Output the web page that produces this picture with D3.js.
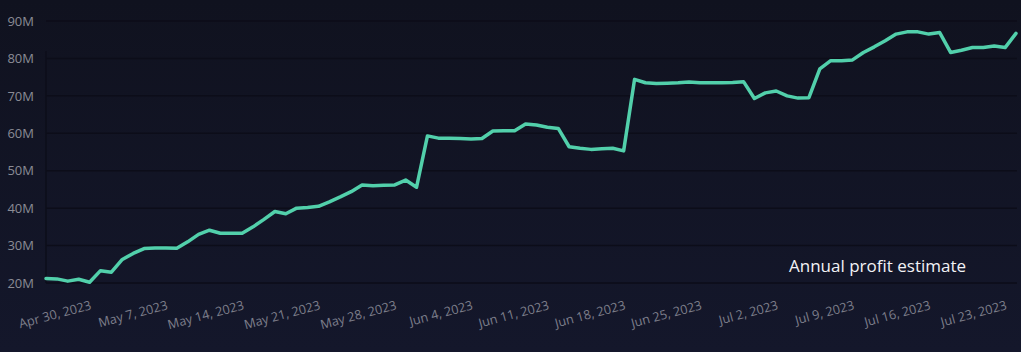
<!DOCTYPE html>
<html>
<head>
<meta charset="utf-8">
<script src="https://cdn.jsdelivr.net/npm/d3@7"></script>
<style>
  html, body { margin: 0; padding: 0; background: #12142a; }
  svg { display: block; }
</style>
</head>
<body>
<div id="chart"></div>
<script>
"use strict";

// daily values, in millions, starting on the first date
var startDate = "2023-04-26";
var profit = [
  21.2, 21.1, 20.5, 21.0, 20.2, 23.3, 22.9, 26.3, 27.9, 29.2,
  29.35, 29.35, 29.3, 31.0, 33.0, 34.1, 33.3, 33.3, 33.3, 35.0,
  37.0, 39.1, 38.5, 40.0, 40.2, 40.5, 41.7, 43.0, 44.4, 46.2,
  46.0, 46.1, 46.2, 47.5, 45.6, 59.3, 58.7, 58.7, 58.6, 58.5,
  58.6, 60.6, 60.7, 60.7, 62.5, 62.2, 61.6, 61.3, 56.4, 56.0,
  55.7, 55.9, 56.0, 55.3, 74.4, 73.5, 73.3, 73.4, 73.5, 73.7,
  73.5, 73.5, 73.5, 73.6, 73.8, 69.3, 70.8, 71.3, 70.0, 69.4,
  69.5, 77.2, 79.4, 79.4, 79.6, 81.6, 83.1, 84.7, 86.5, 87.1,
  87.1, 86.5, 86.9, 81.6, 82.2, 82.9, 82.9, 83.3, 82.9, 86.7
];
var yTicks = [20, 30, 40, 50, 60, 70, 80, 90];
var seriesName = "Annual profit estimate";

var width = 1021, height = 352;
var plot = { left: 46, right: 1016, top: 21, bottom: 283 };

var parse = d3.timeParse("%Y-%m-%d");
var day0 = parse(startDate);
var data = profit.map(function (v, i) {
  return { date: d3.timeDay.offset(day0, i), value: v };
});

var x = d3.scaleTime()
  .domain(d3.extent(data, function (d) { return d.date; }))
  .range([plot.left, plot.right]);
var y = d3.scaleLinear().domain([20, 90]).range([plot.bottom, plot.top]);

var svg = d3.select("#chart").append("svg")
  .attr("width", width).attr("height", height);

// background, a little lighter at the bottom
var grad = svg.append("defs").append("linearGradient")
  .attr("id", "bg").attr("x1", 0).attr("y1", 0).attr("x2", 0).attr("y2", 1);
grad.append("stop").attr("offset", "0%").attr("stop-color", "#10121f");
grad.append("stop").attr("offset", "100%").attr("stop-color", "#14172b");
svg.append("rect").attr("width", width).attr("height", height).attr("fill", "url(#bg)");

// grid lines
svg.append("g").selectAll("line").data(yTicks).join("line")
  .attr("x1", plot.left).attr("x2", plot.right + 1)
  .attr("y1", function (d) { return y(d); })
  .attr("y2", function (d) { return y(d); })
  .attr("stroke", "#0c0d19").attr("stroke-width", 1.5);

svg.append("line")
  .attr("x1", plot.left).attr("x2", plot.left)
  .attr("y1", plot.top + 30).attr("y2", plot.bottom)
  .attr("stroke", "#0d0e1a").attr("stroke-width", 1.5);

// y axis labels
var yAxis = d3.axisLeft(y).tickValues(yTicks)
  .tickFormat(function (d) { return d + "M"; })
  .tickSize(0).tickPadding(12);
var gy = svg.append("g").attr("transform", "translate(" + plot.left + ",0)").call(yAxis);
gy.select(".domain").remove();
gy.selectAll("text")
  .style("font-family", "'Open Sans', sans-serif").style("font-size", "13px")
  .attr("fill", "#8a8b95");

// x axis labels, weekly, tilted
var xAxis = d3.axisBottom(x).ticks(d3.timeWeek.every(1))
  .tickFormat(d3.timeFormat("%b %-d, %Y")).tickSize(0);
var gx = svg.append("g").attr("transform", "translate(0," + plot.bottom + ")").call(xAxis);
gx.select(".domain").remove();
gx.selectAll("text")
  .attr("y", 0).attr("dy", 0)
  .attr("text-anchor", "end")
  .attr("transform", "translate(2,26) rotate(-15)")
  .style("font-family", "'Open Sans', sans-serif").style("font-size", "12.7px")
  .attr("fill", "#7d7e8a");

// the line
var line = d3.line()
  .x(function (d) { return x(d.date); })
  .y(function (d) { return y(d.value); });
svg.append("path").datum(data)
  .attr("d", line)
  .attr("fill", "none")
  .attr("stroke", "#52d0ab")
  .attr("stroke-width", 3.5)
  .attr("stroke-linejoin", "round")
  .attr("stroke-linecap", "round");

// legend
svg.append("text")
  .attr("x", 789).attr("y", 272)
  .text(seriesName)
  .style("font-family", "'Open Sans', sans-serif").style("font-size", "17px")
  .attr("fill", "#f2f2f5");
</script>
</body>
</html>
